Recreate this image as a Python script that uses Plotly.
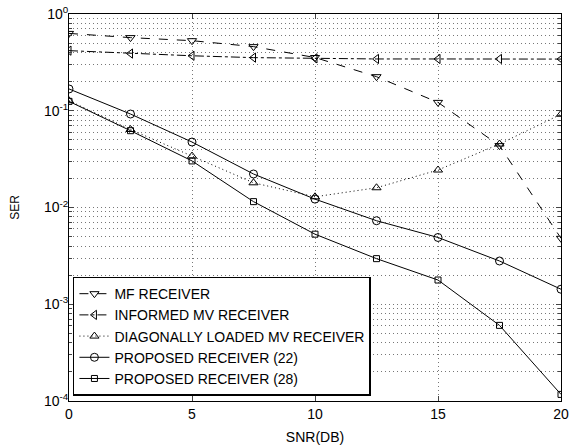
import plotly.graph_objects as go

snr = [0, 2.5, 5, 7.5, 10, 12.5, 15, 17.5, 20]
mf = [0.63, 0.57, 0.53, 0.46, 0.355, 0.225, 0.122, 0.0436, 0.0048]
informed = [0.418, 0.39, 0.37, 0.354, 0.348, 0.343, 0.343, 0.343, 0.342]
diag = [0.127, 0.064, 0.034, 0.018, 0.0129, 0.016, 0.0244, 0.0453, 0.092]
prop22 = [0.168, 0.0925, 0.0475, 0.0222, 0.0122, 0.0073, 0.0049, 0.0028, 0.00143]
prop28 = [0.125, 0.0622, 0.0303, 0.0115, 0.0053, 0.00296, 0.00178, 0.000605, 0.000117]

names = ["MF RECEIVER", "INFORMED MV RECEIVER", "DIAGONALLY LOADED MV RECEIVER",
         "PROPOSED RECEIVER (22)", "PROPOSED RECEIVER (28)"]
series = [mf, informed, diag, prop22, prop28]
dashes = ["dash", "dashdot", "1px,3px", "solid", "solid"]
symbols = ["triangle-down-open", "triangle-left-open", "triangle-up-open", "circle-open", "square-open"]
sizes = [8, 8, 8, 8, 6]

ytickvals = [1e-4, 1e-3, 1e-2, 1e-1, 1]
yticktext = ["10<sup>-4</sup>", "10<sup>-3</sup>", "10<sup>-2</sup>", "10<sup>-1</sup>", "10<sup>0</sup>"]

fig = go.Figure()
for n, s, d, sym, sz in zip(names, series, dashes, symbols, sizes):
    fig.add_trace(go.Scatter(
        x=snr, y=s, name=n, mode="lines+markers",
        line=dict(color="black", width=1, dash=d),
        marker=dict(symbol=sym, size=sz, color="black", line=dict(width=1, color="black")),
    ))

font = "Liberation Sans, Arial, sans-serif"
grid = dict(showgrid=True, gridcolor="#777", griddash="1px,3px", gridwidth=1)
fig.update_layout(
    width=570, height=448,
    margin=dict(l=69, r=9, t=14, b=47, autoexpand=False),
    paper_bgcolor="white", plot_bgcolor="white",
    font=dict(family=font, size=14, color="black"),
    showlegend=True,
    legend=dict(x=0.008, y=0.014, xanchor="left", yanchor="bottom",
                bordercolor="black", borderwidth=1.5, bgcolor="white",
                font=dict(size=14), tracegroupgap=0, itemwidth=30),
    xaxis=dict(range=[0, 20], tickvals=[0, 5, 10, 15, 20], ticks="inside", ticklen=5,
               showline=True, linecolor="black", mirror="ticks", linewidth=1,
               automargin=False,
               zeroline=False, title=dict(text="SNR(DB)", standoff=11, font=dict(size=14)),
               tickfont=dict(size=14), **grid),
    yaxis=dict(type="log", range=[-4, 0], tickvals=ytickvals, ticktext=yticktext,
               ticks="inside", ticklen=5, ticklabelstandoff=-3,
               showline=True, linecolor="black", mirror="ticks", linewidth=1,
               automargin=False,
               minor=dict(ticks="inside", ticklen=3, showgrid=True, gridcolor="#777",
                          griddash="1px,3px", gridwidth=1, dtick="D1"),
               zeroline=False, title=dict(text="SER", standoff=21, font=dict(size=12)),
               tickfont=dict(size=14), **grid),
)

fig.write_html("out.html", config={"displayModeBar": False},
               post_script="document.body.style.margin='0px';document.body.style.overflow='hidden';")
